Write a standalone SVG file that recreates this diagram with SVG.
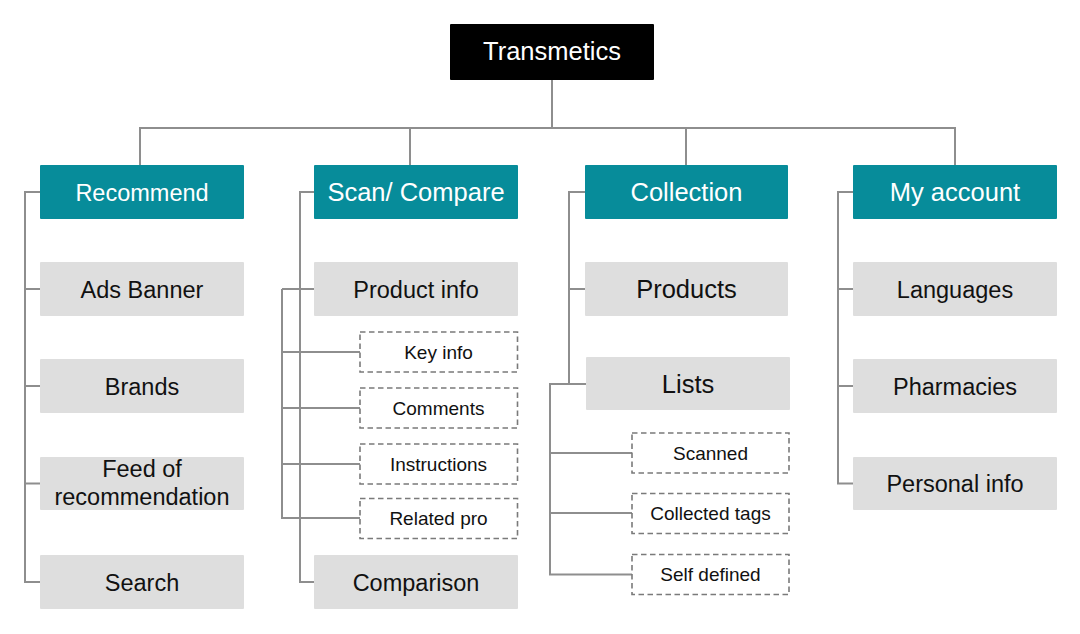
<svg xmlns="http://www.w3.org/2000/svg" width="1080" height="634" viewBox="0 0 1080 634">
<style>
text{font-family:"Liberation Sans",Arial,Helvetica,sans-serif;text-anchor:middle}
.root{fill:#000}
.head{fill:#078c9a}
.item{fill:#dedede}
.sub{fill:#fff;stroke:#7a7a7a;stroke-width:1.6;stroke-dasharray:5.5 3.5}
.tw{fill:#fff}
.tb{fill:#111}
.conn path{fill:none;stroke:#8e8e8e;stroke-width:2}
</style>
<rect width="1080" height="634" fill="#fff"/>
<g class="conn">
<path d="M552 80V128M140 165V128H955V165M410 128V165M686 128V165"/>
<path d="M40 192H25V582H40M25 289H40M25 386H40M25 483.5H40"/>
<path d="M314 192H300V582H314M282 289H314M282 289V518H360M282 352H360M282 408H360M282 464H360"/>
<path d="M585 192H569V384M569 289H585M586 384H550V574.5H632M550 453H632M550 513H632"/>
<path d="M853 192H838V483.5H853M838 289H853M838 386H853"/>
</g>
<g id="n-root"><rect class="root" x="450" y="24" width="204" height="56" rx="1"/><text class="tw" x="552" y="60" font-size="25.5">Transmetics</text></g>
<g id="n-recommend"><rect class="head" x="40" y="165" width="204" height="54" rx="1"/><text class="tw" x="142" y="200.5" font-size="23.5">Recommend</text></g>
<g id="n-scan"><rect class="head" x="314" y="165" width="204" height="54" rx="1"/><text class="tw" x="416" y="201" font-size="25.5">Scan/ Compare</text></g>
<g id="n-collection"><rect class="head" x="585" y="165" width="203" height="54" rx="1"/><text class="tw" x="686.5" y="201" font-size="25.5">Collection</text></g>
<g id="n-account"><rect class="head" x="853" y="165" width="204" height="54" rx="1"/><text class="tw" x="955" y="201" font-size="25.5">My account</text></g>
<g id="n-ads"><rect class="item" x="40" y="262" width="204" height="54" rx="1"/><text class="tb" x="142" y="297.5" font-size="23.5">Ads Banner</text></g>
<g id="n-brands"><rect class="item" x="40" y="359" width="204" height="54" rx="1"/><text class="tb" x="142" y="394.5" font-size="23.5">Brands</text></g>
<g id="n-feed"><rect class="item" x="40" y="457" width="204" height="53" rx="1"/><text class="tb" x="142" y="477" font-size="23.5">Feed of</text><text class="tb" x="142" y="505" font-size="23.5">recommendation</text></g>
<g id="n-search"><rect class="item" x="40" y="555" width="204" height="54" rx="1"/><text class="tb" x="142" y="590.5" font-size="23.5">Search</text></g>
<g id="n-product"><rect class="item" x="314" y="262" width="204" height="54" rx="1"/><text class="tb" x="416" y="297.5" font-size="23.5">Product info</text></g>
<g id="n-key"><rect class="sub" x="360" y="332" width="157.5" height="40"/><text class="tb" x="438.5" y="358.5" font-size="19">Key info</text></g>
<g id="n-comments"><rect class="sub" x="360" y="388" width="157.5" height="40"/><text class="tb" x="438.5" y="414.5" font-size="19">Comments</text></g>
<g id="n-instructions"><rect class="sub" x="360" y="444" width="157.5" height="40"/><text class="tb" x="438.5" y="470.5" font-size="19">Instructions</text></g>
<g id="n-related"><rect class="sub" x="360" y="498.5" width="157.5" height="40"/><text class="tb" x="438.5" y="525" font-size="19">Related pro</text></g>
<g id="n-comparison"><rect class="item" x="314" y="555" width="204" height="54" rx="1"/><text class="tb" x="416" y="590.5" font-size="23.5">Comparison</text></g>
<g id="n-products"><rect class="item" x="585" y="262" width="203" height="54" rx="1"/><text class="tb" x="686.5" y="298" font-size="25.5">Products</text></g>
<g id="n-lists"><rect class="item" x="586" y="357" width="204" height="53" rx="1"/><text class="tb" x="688" y="392.5" font-size="25.5">Lists</text></g>
<g id="n-scanned"><rect class="sub" x="632" y="433" width="157" height="40"/><text class="tb" x="710.5" y="459.5" font-size="19">Scanned</text></g>
<g id="n-tags"><rect class="sub" x="632" y="493.5" width="157" height="40"/><text class="tb" x="710.5" y="520" font-size="19">Collected tags</text></g>
<g id="n-self"><rect class="sub" x="632" y="554.5" width="157" height="40"/><text class="tb" x="710.5" y="581" font-size="19">Self defined</text></g>
<g id="n-languages"><rect class="item" x="853" y="262" width="204" height="54" rx="1"/><text class="tb" x="955" y="297.5" font-size="23.5">Languages</text></g>
<g id="n-pharmacies"><rect class="item" x="853" y="359" width="204" height="54" rx="1"/><text class="tb" x="955" y="394.5" font-size="23.5">Pharmacies</text></g>
<g id="n-personal"><rect class="item" x="853" y="457" width="204" height="53" rx="1"/><text class="tb" x="955" y="492" font-size="23.5">Personal info</text></g>
</svg>
